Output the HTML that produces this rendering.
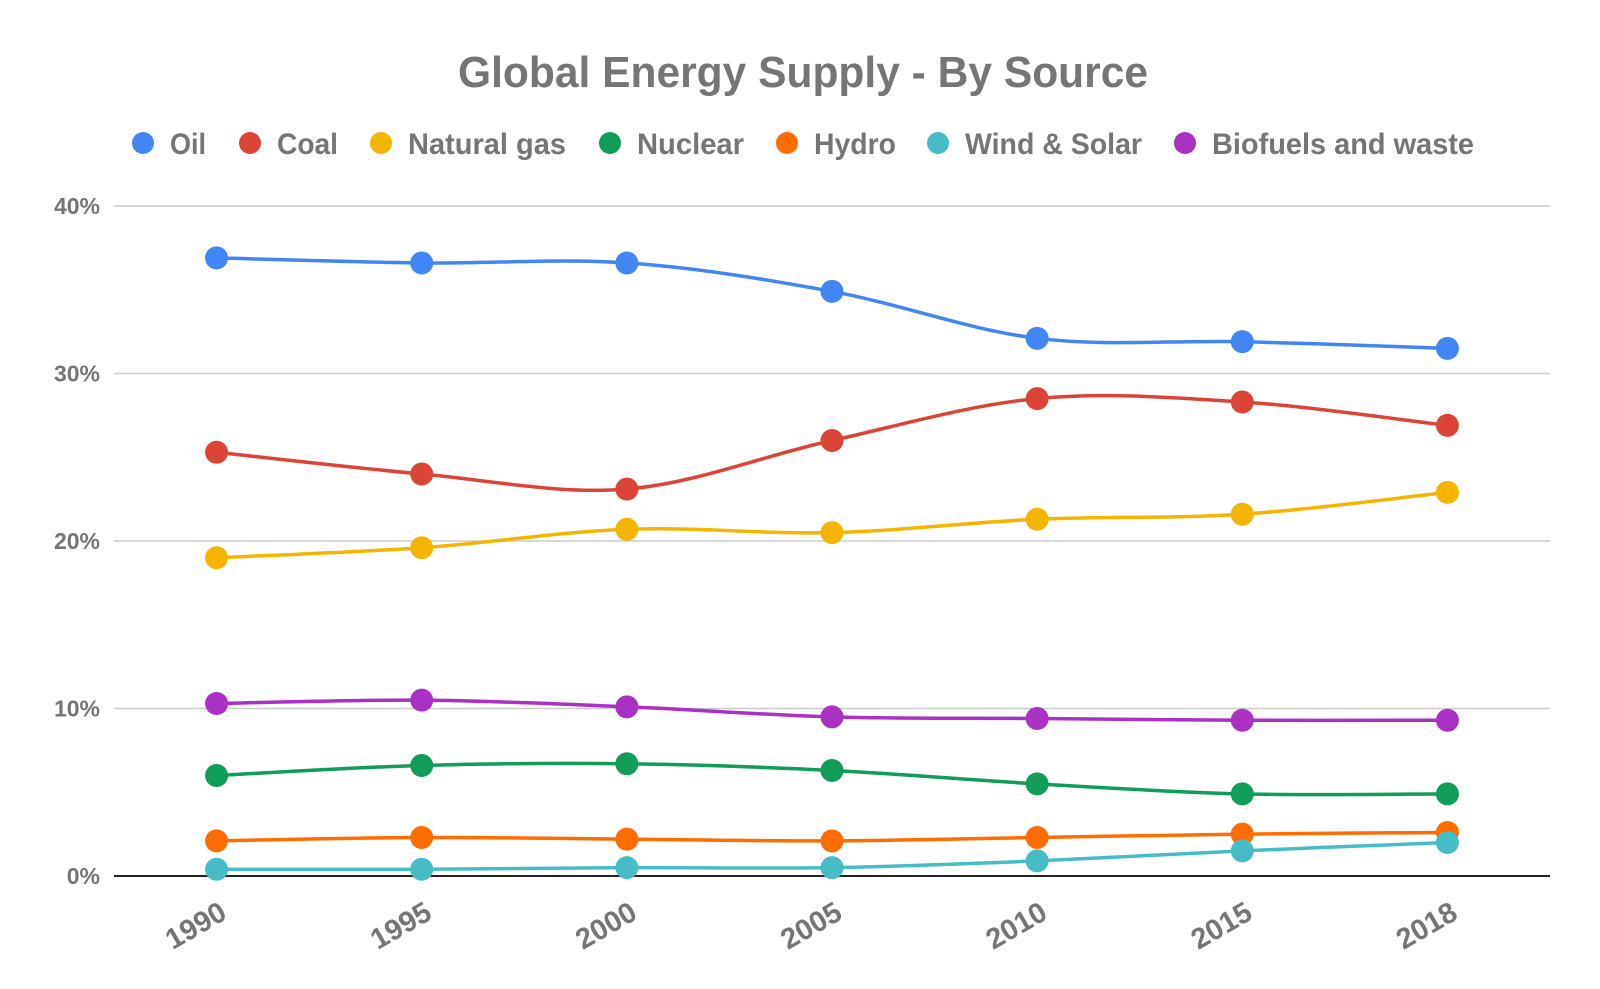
<!DOCTYPE html>
<html><head><meta charset="utf-8"><style>
html,body{margin:0;padding:0;background:#fff;}
svg{display:block;font-family:"Liberation Sans",Arial,sans-serif;}
</style></head><body>
<svg id="chart" width="1600" height="989" viewBox="0 0 1600 989" xmlns="http://www.w3.org/2000/svg">
<rect width="1600" height="989" fill="#fff"/>
<text x="803" y="87" text-anchor="middle" font-size="44" font-weight="bold" fill="#757575" textLength="690" lengthAdjust="spacingAndGlyphs">Global Energy Supply - By Source</text>
<g id="legend"></g>
<g id="grid"></g>
<g id="yaxis"></g>
<g id="xaxis"></g>
<g id="series"></g>
</svg>
<script>
const categories = ["1990","1995","2000","2005","2010","2015","2018"];
const seriesNames = ["Oil","Coal","Natural gas","Nuclear","Hydro","Wind & Solar","Biofuels and waste"];
const oil = [36.9,36.6,36.6,34.9,32.1,31.9,31.5];
const coal = [25.3,24.0,23.1,26.0,28.5,28.3,26.9];
const gas = [19.0,19.6,20.7,20.5,21.3,21.6,22.9];
const nuclear = [6.0,6.6,6.7,6.3,5.5,4.9,4.9];
const hydro = [2.1,2.3,2.2,2.1,2.3,2.5,2.6];
const windSolar = [0.4,0.4,0.5,0.5,0.9,1.5,2.0];
const biofuels = [10.3,10.5,10.1,9.5,9.4,9.3,9.3];
const yTicks = [0,10,20,30,40];
const yTickLabels = ["0%","10%","20%","30%","40%"];

const colors = ["#4285f4","#db4437","#f4b400","#0f9d58","#ff6d01","#46bdc6","#ab30c4"];
const allSeries = [oil,coal,gas,nuclear,hydro,windSolar,biofuels];
const NS="http://www.w3.org/2000/svg";
const left=114,right=1550,y0=876,y40=206;
const step=(right-left)/categories.length;
function xPos(i){return left+step*(i+0.5);}
function yPos(v){return y0-(v/40)*(y0-y40);}
function mk(tag,attrs,parent){const e=document.createElementNS(NS,tag);for(const k in attrs)e.setAttribute(k,attrs[k]);parent.appendChild(e);return e;}

const grid=document.getElementById('grid'),yaxis=document.getElementById('yaxis'),xaxis=document.getElementById('xaxis'),series=document.getElementById('series'),legend=document.getElementById('legend');
yTicks.forEach((t,i)=>{
  const y=yPos(t);
  if(t!==0){const l=mk('line',{x1:left,x2:right,y1:y,y2:y,stroke:'#cccccc','stroke-width':1.5},grid);
  
  }
  const tx=mk('text',{x:100,y:y+8,'text-anchor':'end','font-size':23,'font-weight':'bold',fill:'#757575'},yaxis);
  tx.textContent=yTickLabels[i];
  
  
});
const base=mk('line',{x1:left,x2:right,y1:y0,y2:y0,stroke:'#222','stroke-width':2},grid);


categories.forEach((c,i)=>{
  const cx=xPos(i)-16,cy=934;
  const tx=mk('text',{x:cx,y:cy,'text-anchor':'middle','font-size':29,'font-weight':'bold',fill:'#757575',transform:`rotate(-30 ${cx} ${cy})`},xaxis);
  tx.textContent=c;
  
  
});
function pathFor(pts){
  let d=`M${pts[0][0]},${pts[0][1]}`;const t=0.5/3*2;
  for(let i=0;i<pts.length-1;i++){
    const p0=pts[i-1]||pts[i],p1=pts[i],p2=pts[i+1],p3=pts[i+2]||p2;
    const c1=[p1[0]+(p2[0]-p0[0])*t/2,p1[1]+(p2[1]-p0[1])*t/2];
    const c2=[p2[0]-(p3[0]-p1[0])*t/2,p2[1]-(p3[1]-p1[1])*t/2];
    d+=` C${c1[0]},${c1[1]} ${c2[0]},${c2[1]} ${p2[0]},${p2[1]}`;
  }
  return d;
}
const drawOrder=[6,0,1,2,3,4,5];
drawOrder.forEach(s=>{
  const g=mk('g',{},series);
  
  
  const pts=allSeries[s].map((v,i)=>[xPos(i),yPos(v)]);
  const p=mk('path',{d:pathFor(pts),fill:'none',stroke:colors[s],'stroke-width':3.5},g);
  
  
  pts.forEach(pt=>{
    const c=mk('circle',{cx:pt[0],cy:pt[1],r:11.5,fill:colors[s]},g);
    
    
  });
});
const legX=[143,250,381,610,787,938,1185];
const legW=[36,61,158,107,82,177,262];
seriesNames.forEach((n,i)=>{
  const g=mk('g',{},legend);
  
  
  mk('circle',{cx:legX[i],cy:143,r:11,fill:colors[i]},g);
  const t=mk('text',{x:legX[i]+27,y:154,'font-size':30,'font-weight':'bold',fill:'#757575',textLength:legW[i],lengthAdjust:'spacingAndGlyphs'},g);
  t.textContent=n;
});
</script>
</body></html>
